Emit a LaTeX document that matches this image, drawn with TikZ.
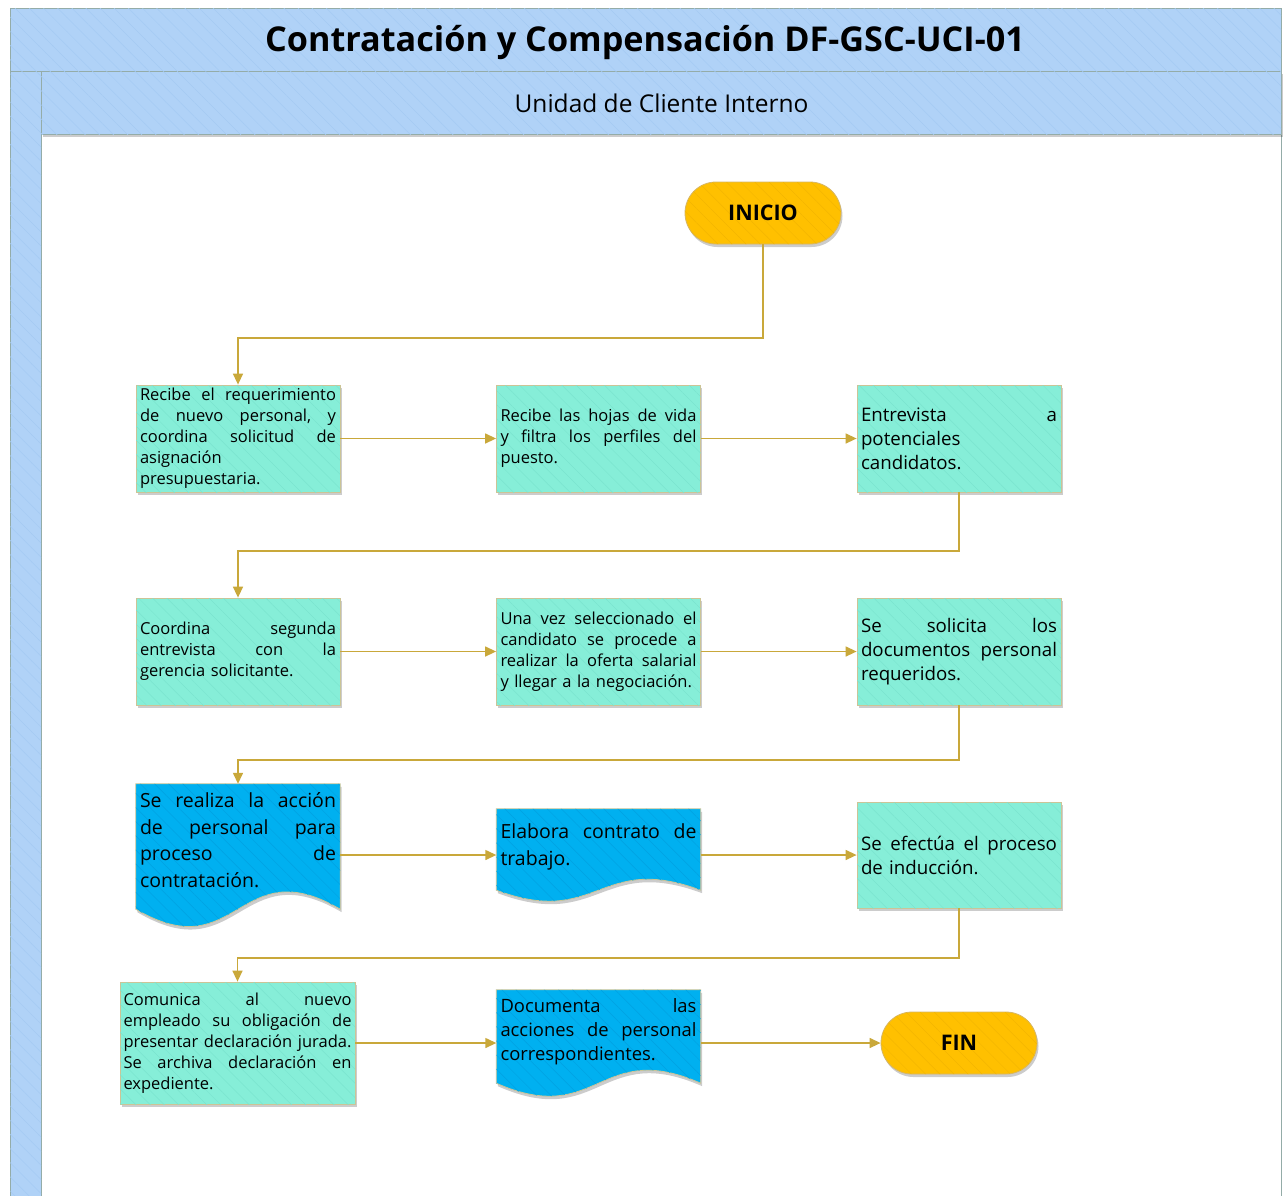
\documentclass[tikz,border=0pt]{standalone}
\usepackage{fontspec}
\setmainfont{Open Sans}
\usetikzlibrary{arrows.meta,shadows,patterns.meta}

\definecolor{bandblue}{RGB}{176,210,247}
\definecolor{bandhatch}{RGB}{165,202,243}
\definecolor{frameline}{RGB}{148,172,168}
\definecolor{procfill}{RGB}{134,238,216}
\definecolor{prochatch}{RGB}{122,228,207}
\definecolor{procline}{RGB}{204,196,150}
\definecolor{docfill}{RGB}{0,176,240}
\definecolor{dochatch}{RGB}{0,162,226}
\definecolor{termfill}{RGB}{255,192,0}
\definecolor{termhatch}{RGB}{243,182,0}
\definecolor{termline}{RGB}{214,182,100}
\definecolor{flow}{RGB}{201,168,58}

\pgfdeclarelayer{bands}
\pgfdeclarelayer{docs}
\pgfsetlayers{bands,docs,main}

% one fully justified line of a box text: words spread with \hfill
\def\jlw#1 #2\jlend{#1\if\relax\detokenize{#2}\relax\else\hfill\jlw#2\jlend\fi}
\newcommand\jl[2][196pt]{\leavevmode\hbox to #1{\jlw#2 \jlend}}
% outline of a document symbol: straight top, wavy bottom
\newcommand\docoutline[3]{(#1.north west) -- (#1.north east) -- ([yshift=#2pt]#1.south east) .. controls +(-102pt,#3pt) and +(102pt,-#3pt) .. ([yshift=#2pt]#1.south west) -- cycle}

\tikzset{
  hatch/.style={postaction={pattern={Lines[angle=-45,distance=10pt,line width=0.5pt]},pattern color=#1}},
  soft/.style={drop shadow={shadow xshift=1.5pt,shadow yshift=-3pt,opacity=0.2,fill=black}},
  conn/.style={draw=flow,line width=1.4pt,-{Triangle[length=11pt,width=10pt]}},
  proc/.style={draw=procline,line width=0.8pt,fill=procfill,hatch=prochatch,soft,
    minimum width=204pt,minimum height=107pt,text width=196pt,inner xsep=4pt,inner ysep=0pt,
    align=left,font=\fontsize{16.5}{21}\selectfont},
  big/.style={font=\fontsize{18.7}{24}\selectfont},
  term/.style={draw=termline,line width=0.8pt,fill=termfill,hatch=termhatch,soft,
    rounded corners=31pt,minimum width=156pt,minimum height=62pt,
    font=\bfseries\fontsize{21.5}{24}\selectfont},
  docframe/.style={minimum width=204pt,inner sep=0pt},
  doctext/.style={text width=196pt,inner sep=0pt,align=left},
  docbody/.style={draw=procline,line width=0.8pt,fill=docfill,hatch=dochatch},
  docshade/.style={fill=black,opacity=0.2,transform canvas={shift={(1.5pt,-3pt)}}},
}

\begin{document}
\begin{tikzpicture}[x=1pt,y=-1pt]
\useasboundingbox (0,0) rectangle (1288,1195);

% swimlane frame and headers
\begin{pgfonlayer}{bands}
  \fill[white] (0,0) rectangle (1288,1195);
  \draw[frameline,line width=1pt] (10,8) rectangle (1281,1215);
  \path[fill=bandblue,hatch=bandhatch,draw=frameline,line width=1pt] (10,71) rectangle (41,1215);
  \path[fill=bandblue,hatch=bandhatch,draw=frameline,line width=1pt,soft] (41,71) rectangle (1281,134);
  \path[fill=bandblue,hatch=bandhatch,draw=frameline,line width=1pt] (10,8) rectangle (1281,71);
\end{pgfonlayer}

\node[font=\bfseries\fontsize{34.2}{40}\selectfont] (title) at (645,42.5) {Contratación y Compensación DF-GSC-UCI-01};
\node[font=\fontsize{24.5}{28}\selectfont] (lane) at (661.5,103) {Unidad de Cliente Interno};

% terminals
\node[term] (inicio) at (763,213) {INICIO};
\node[term] (fin) at (959,1043) {FIN};

% first row
\node[proc] (b1) at (238,438.5) {\jl{Recibe el requerimiento}\\\jl{de nuevo personal, y}\\\jl{coordina solicitud de}\\asignación\\presupuestaria.};
\node[proc] (b2) at (598.5,438.5) {\jl{Recibe las hojas de vida}\\\jl{y filtra los perfiles del}\\puesto.};
\node[proc,big] (b3) at (959,438.5) {\jl{Entrevista a}\\potenciales\\candidatos.};

% second row
\node[proc] (b4) at (238,651.5) {\jl{Coordina segunda}\\\jl{entrevista con la}\\gerencia solicitante.};
\node[proc] (b5) at (598.5,651.5) {\jl{Una vez seleccionado el}\\\jl{candidato se procede a}\\\jl{realizar la oferta salarial}\\y llegar a la negociación.};
\node[proc,big] (b6) at (959,651.5) {\jl{Se solicita los}\\\jl{documentos personal}\\requeridos.};

% third row
\node[docframe,minimum height=142pt] (d1) at (238,855) {};
\node[doctext,font=\fontsize{19.5}{26.5}\selectfont] (d1t) at (238,840) {\jl{Se realiza la acción}\\\jl{de personal para}\\\jl{proceso de}\\contratación.};
\node[docframe,minimum height=92pt] (d2) at (598.5,855) {};
\node[doctext,font=\fontsize{19.5}{26.5}\selectfont] (d2t) at (598.5,847) {\jl{Elabora contrato de}\\trabajo.};
\node[proc,big,minimum height=106pt] (b7) at (959,855) {\jl{Se efectúa el proceso}\\de inducción.};

% fourth row
\node[proc,minimum width=235pt,minimum height=122pt,text width=228pt,inner xsep=3.5pt] (b8) at (237.5,1043) {\jl[228pt]{Comunica al nuevo}\\\jl[228pt]{empleado su obligación de}\\\jl[228pt]{presentar declaración jurada.}\\\jl[228pt]{Se archiva declaración en}\\expediente.};
\node[docframe,minimum height=106pt] (d3) at (598.5,1043) {};
\node[doctext,font=\fontsize{18.4}{24}\selectfont] (d3t) at (598.5,1032) {\jl{Documenta las}\\\jl{acciones de personal}\\correspondientes.};

% document symbols behind their texts
\begin{pgfonlayer}{docs}
  \fill[docshade] \docoutline{d1}{17}{60};
  \path[docbody] \docoutline{d1}{17}{60};
  \fill[docshade] \docoutline{d2}{11}{38};
  \path[docbody] \docoutline{d2}{11}{38};
  \fill[docshade] \docoutline{d3}{13}{45};
  \path[docbody] \docoutline{d3}{13}{45};
\end{pgfonlayer}

% flow
\draw[conn] (inicio.south) -- (inicio.south |- 0,338) -| (b1.north);
\draw[conn] (b1.east) -- (b2.west);
\draw[conn] (b2.east) -- (b3.west);
\draw[conn] (b3.south) -- (b3.south |- 0,551) -| (b4.north);
\draw[conn] (b4.east) -- (b5.west);
\draw[conn] (b5.east) -- (b6.west);
\draw[conn] (b6.south) -- (b6.south |- 0,760) -| (d1.north);
\draw[conn] (d1.east) -- (d2.west);
\draw[conn] (d2.east) -- (b7.west);
\draw[conn] (b7.south) -- (b7.south |- 0,958) -| (b8.north);
\draw[conn] (b8.east) -- (d3.west);
\draw[conn] (d3.east) -- (fin.west);
\end{tikzpicture}
\end{document}
